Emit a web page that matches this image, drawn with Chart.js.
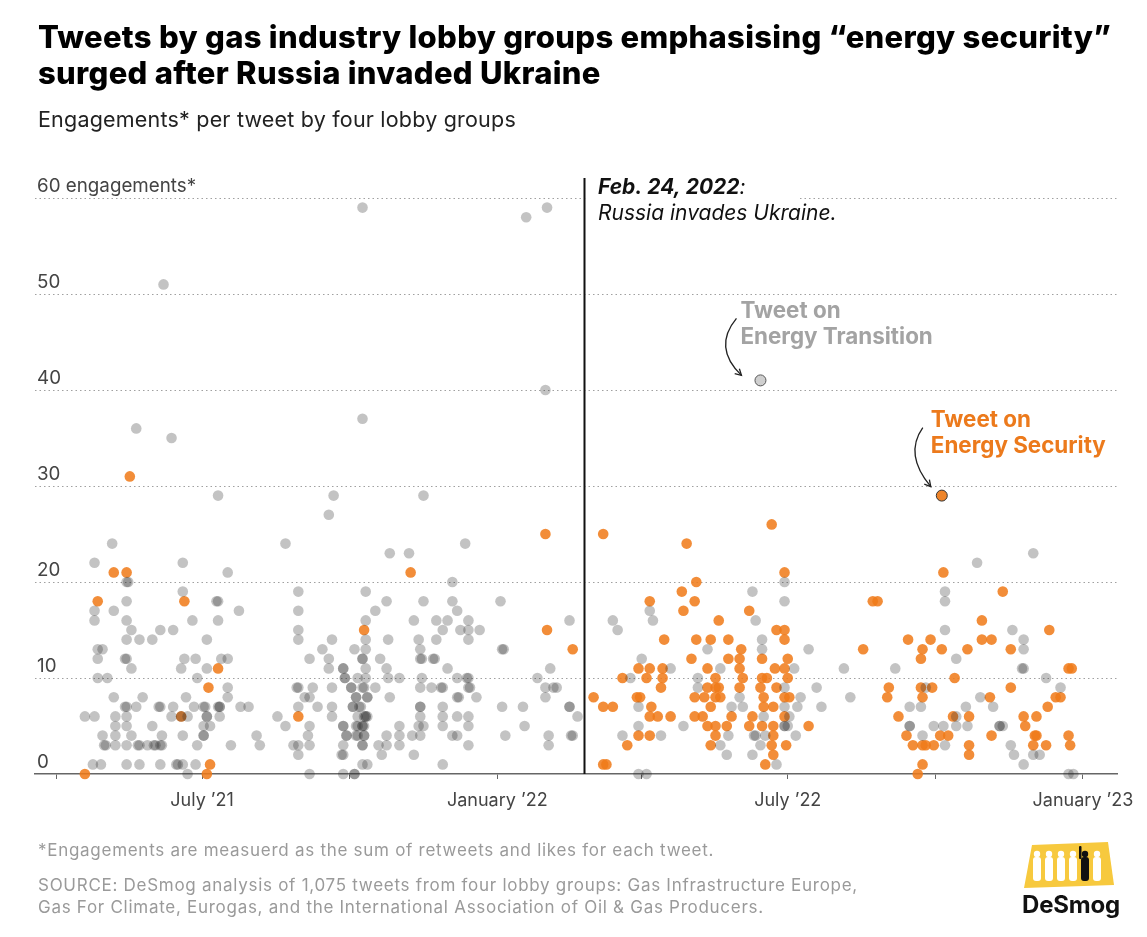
<!DOCTYPE html>
<html>
<head>
<meta charset="utf-8">
<script src="https://cdn.jsdelivr.net/npm/chart.js@4.4.1/dist/chart.umd.min.js"></script>
<style>
  html,body{margin:0;padding:0;background:#fff;}
  body{width:1147px;height:937px;position:relative;overflow:hidden;font-family:Inter,"Noto Sans",sans-serif;}
  #wrap{position:absolute;left:0;top:0;width:1147px;height:937px;}
  .txt{position:absolute;white-space:nowrap;margin:0;}
  #title{left:38px;top:19px;font-size:31px;line-height:36px;font-weight:800;color:#000;letter-spacing:0.3px;}
  #subtitle{left:38px;top:106px;font-size:21.5px;line-height:26px;color:#222;letter-spacing:0.2px;}
  #note{left:38px;top:839px;font-size:17px;line-height:22px;color:#9a9a9a;letter-spacing:0.72px;}
  #source{left:38px;top:874px;font-size:17px;line-height:22px;color:#9a9a9a;letter-spacing:0.72px;}
  #logo{position:absolute;left:1010px;top:830px;width:130px;height:100px;}
  #logoText{left:1022px;top:890px;font-size:24px;line-height:30px;font-weight:700;color:#111;letter-spacing:-0.2px;}
</style>
</head>
<body>
<div id="wrap"><canvas id="c" width="1147" height="937"></canvas></div>
<div class="txt" id="title">Tweets by gas industry lobby groups emphasising “energy security”<br>surged after Russia invaded Ukraine</div>
<div class="txt" id="subtitle">Engagements* per tweet by four lobby groups</div>
<div class="txt" id="note">*Engagements are measuerd as the sum of retweets and likes for each tweet.</div>
<div class="txt" id="source">SOURCE: DeSmog analysis of 1,075 tweets from four lobby groups: Gas Infrastructure Europe,<br>Gas For Climate, Eurogas, and the International Association of Oil &amp; Gas Producers.</div>
<svg id="logo" viewBox="0 0 130 100">
  <polygon points="22,15 98,12 104,55 14,58" fill="#f7c93e"/>
  <g fill="#fff">
    <circle cx="27" cy="24" r="3.2"/><rect x="23" y="27" width="8" height="24" rx="3"/>
    <circle cx="39" cy="24" r="3.2"/><rect x="35" y="27" width="8" height="24" rx="3"/>
    <circle cx="51" cy="24" r="3.2"/><rect x="47" y="27" width="8" height="24" rx="3"/>
    <circle cx="63" cy="24" r="3.2"/><rect x="59" y="27" width="8" height="24" rx="3"/>
    <circle cx="87" cy="24" r="3.2"/><rect x="83" y="27" width="8" height="24" rx="3"/>
  </g>
  <g fill="#111">
    <circle cx="75" cy="24" r="3.2"/><rect x="71" y="27" width="8" height="24" rx="3"/>
    <rect x="69" y="16" width="2.5" height="13" rx="1"/>
  </g>
</svg>
<div class="txt" id="logoText">DeSmog</div>
<script>
// x values: days since 1 April 2021 (tweet date); y values: engagements
const START_DATE = '2021-04-01';
const INVASION_DAY = 329; // Feb. 24, 2022
const xTickDays   = [0, 91, 183, 275, 365, 456, 548, 640];
const xTickLabels = ['', 'July ’21', '', 'January ’22', '', 'July ’22', '', 'January ’23'];
const yTickValues = [0, 10, 20, 30, 40, 50, 60];
const yTickLabels = ['0', '10', '20', '30', '40', '50', '60 engagements*'];

// Tweets on other topics (grey): [day, engagements]
const otherTweets = [
[35,24],[143,24],[24,22],[79,22],[107,21],[44,20],[45,20],[44,18],[101,18],[100,18],[79,19],[24,17],[36,17],[114,17],
[24,16],[44,16],[85,16],[101,16],[47,15],[65,15],[73,15],[44,14],[52,14],[60,14],[94,14],[26,13],[29,13],[26,12],
[44,12],[43,12],[80,12],[87,12],[103,12],[107,12],[47,11],[78,11],[94,11],[26,10],[32,10],[88,10],[107,9],[36,8],
[54,8],[81,8],[107,8],[44,7],[43,7],[50,7],[65,7],[64,7],[73,7],[86,7],[93,7],[92,7],[102,7],[102,7],[101,7],[115,7],
[120,7],[18,6],[24,6],[37,6],[44,6],[72,6],[78,6],[82,6],[94,6],[94,6],[102,6],[138,6],[37,5],[44,5],[60,5],[92,5],
[96,5],[143,5],[29,4],[37,4],[47,4],[66,4],[79,4],[92,4],[92,4],[125,4],[31,3],[30,3],[37,3],[44,3],[52,3],[51,3],
[57,3],[62,3],[61,3],[65,3],[66,3],[88,3],[109,3],[127,3],[23,1],[28,1],[44,1],[52,1],[65,1],[75,1],[76,1],[79,1],
[87,1],[82,0],[50,36],[72,35],[67,51],[101,29],
[170,27],[173,29],[229,29],[191,59],[191,37],[293,58],[306,59],[305,40],[208,23],[220,23],[255,24],[247,20],[151,19],
[193,19],[206,18],[229,18],[247,18],[277,18],[151,17],[199,17],[250,17],[193,16],[223,16],[237,16],[244,16],[257,16],
[320,16],[151,15],[241,15],[252,15],[257,15],[264,15],[151,14],[172,14],[193,14],[207,14],[226,14],[237,14],[257,14],
[166,13],[186,13],[193,13],[227,13],[279,13],[278,13],[158,12],[170,12],[191,12],[191,12],[202,12],[227,12],[228,12],
[236,12],[235,12],[170,11],[179,11],[179,11],[193,11],[206,11],[244,11],[308,11],[180,10],[180,10],[188,10],[193,10],
[207,10],[214,10],[228,10],[250,10],[257,10],[256,10],[300,10],[151,9],[150,9],[160,9],[172,9],[184,9],[184,9],[191,9],
[192,9],[199,9],[227,9],[234,9],[241,9],[240,9],[257,9],[258,9],[305,9],[310,9],[312,9],[155,8],[158,8],[187,8],[187,8],
[194,8],[194,8],[208,8],[250,8],[251,8],[262,8],[305,8],[151,7],[163,7],[172,7],[185,7],[185,7],[189,7],[190,7],[227,7],
[227,7],[241,7],[278,7],[291,7],[320,7],[320,7],[172,6],[188,6],[193,6],[193,6],[192,6],[194,6],[227,6],[241,6],[250,6],
[257,6],[325,6],[158,5],[179,5],[179,5],[188,5],[187,5],[191,5],[192,5],[191,5],[214,5],[226,5],[229,5],[241,5],[257,5],
[292,5],[157,4],[181,4],[181,4],[188,4],[187,4],[192,4],[192,4],[206,4],[214,4],[222,4],[227,4],[247,4],[250,4],[280,4],
[307,4],[322,4],[321,4],[148,3],[151,3],[158,3],[179,3],[191,3],[191,3],[201,3],[206,3],[214,3],[257,3],[307,3],[151,2],
[179,2],[178,2],[203,2],[223,2],[191,1],[194,1],[241,1],[158,0],[179,0],[186,0],[186,0],
[454,20],[434,19],[454,18],[370,17],[347,16],[372,16],[436,16],[350,15],[440,14],[406,13],[440,13],[469,13],[365,12],
[383,11],[414,11],[460,11],[491,11],[358,10],[400,10],[400,9],[454,9],[474,9],[426,8],[464,8],[495,8],[363,7],[421,7],
[428,7],[454,7],[462,7],[477,7],[441,6],[457,6],[363,5],[391,5],[454,5],[454,5],[456,5],[353,4],[377,4],[419,4],[436,4],
[435,4],[442,4],[461,4],[414,3],[439,3],[418,2],[434,2],[449,1],[363,0],[368,0],
[609,23],[574,22],[554,19],[554,18],[554,15],[596,15],[603,14],[603,13],[561,12],[523,11],[603,11],[602,11],[617,10],
[542,9],[626,9],[576,8],[532,7],[539,7],[567,7],[584,7],[561,6],[532,5],[532,5],[547,5],[553,5],[561,5],[568,5],[588,5],
[588,5],[590,5],[540,4],[554,3],[595,3],[597,2],[609,2],[613,2],[603,1],[631,0],[634,0]
];

// Tweets on energy security (orange): [day, engagements]
const securityTweets = [
[36,21],[44,21],[26,18],[80,18],[101,11],[95,9],[78,6],[96,1],[18,0],[94,0],[46,31],[305,25],[221,21],[192,15],[306,15],
[322,13],[151,6],[341,25],[393,24],[446,26],[454,21],[399,20],[390,19],[370,18],[398,18],[391,17],[432,17],[413,16],
[449,15],[454,15],[379,14],[399,14],[408,14],[419,14],[454,14],[427,13],[396,12],[419,12],[426,12],[440,12],[456,12],
[363,11],[370,11],[378,11],[406,11],[426,11],[448,11],[454,11],[353,10],[368,10],[378,10],[411,10],[428,10],[440,10],
[443,10],[456,10],[377,9],[406,9],[411,9],[413,9],[426,9],[439,9],[449,9],[335,8],[362,8],[364,8],[398,8],[404,8],
[411,8],[414,8],[441,8],[454,8],[457,8],[341,7],[347,7],[371,7],[408,7],[441,7],[447,7],[370,6],[375,6],[383,6],[398,6],
[403,6],[421,6],[434,6],[454,6],[406,5],[411,5],[418,5],[432,5],[440,5],[447,5],[469,5],[363,4],[370,4],[411,4],[447,4],
[356,3],[408,3],[446,3],[455,3],[447,2],[341,1],[343,1],[442,1],
[553,21],[590,19],[509,18],[512,18],[577,16],[619,15],[531,14],[545,14],[577,14],[583,14],[503,13],[540,13],[552,13],
[568,13],[595,13],[539,12],[631,11],[633,11],[560,10],[519,9],[539,9],[546,9],[595,9],[518,8],[540,8],[582,8],[623,8],
[626,8],[618,7],[525,6],[559,6],[569,6],[603,6],[611,6],[604,5],[530,4],[551,4],[556,4],[583,4],[611,4],[610,4],[631,4],
[534,3],[540,3],[542,3],[547,3],[569,3],[609,3],[617,3],[632,3],[569,2],[540,1],[537,0]
];

// Highlighted tweets
const highlightTransition = [[439, 41]];
const highlightSecurity   = [[552, 29]];

const toPts = arr => arr.map(([d, v]) => ({x: d, y: v}));
Chart.defaults.font.family = 'Inter, "Noto Sans", sans-serif';

const annotationPlugin = {
  id: 'annots',
  beforeDatasetsDraw(chart) {
    const {ctx, chartArea, scales: {x}} = chart;
    const lx = Math.round(x.getPixelForValue(INVASION_DAY)) + 0.5;
    ctx.save();
    ctx.fillStyle = '#fff';
    ctx.fillRect(lx + 1, chartArea.top - 6, 212, 12);
    ctx.strokeStyle = '#111';
    ctx.lineWidth = 2;
    ctx.beginPath();
    ctx.moveTo(lx, chartArea.top - 20);
    ctx.lineTo(lx, chartArea.bottom);
    ctx.stroke();
    ctx.restore();
  },
  afterDatasetsDraw(chart) {
    const {ctx, chartArea, scales: {x, y}} = chart;
    const lx = x.getPixelForValue(INVASION_DAY);
    ctx.save();
    ctx.textBaseline = 'middle';
    ctx.textAlign = 'left';
    ctx.fillStyle = '#111';
    ctx.font = 'italic 700 21px Inter, "Noto Sans", sans-serif';
    const t1 = 'Feb. 24, 2022';
    ctx.fillText(t1, lx + 14, chartArea.top - 10);
    const w1 = ctx.measureText(t1).width;
    ctx.font = 'italic 400 21px Inter, "Noto Sans", sans-serif';
    ctx.fillText(':', lx + 14 + w1, chartArea.top - 10);
    ctx.fillText('Russia invades Ukraine.', lx + 14, chartArea.top + 16);

    const drawArrow = (sx, sy, cx, cy, ex, ey) => {
      ctx.strokeStyle = '#222';
      ctx.lineWidth = 1.3;
      ctx.beginPath();
      ctx.moveTo(sx, sy);
      ctx.quadraticCurveTo(cx, cy, ex, ey);
      ctx.stroke();
      const ang = Math.atan2(ey - cy, ex - cx);
      const L = 7;
      ctx.beginPath();
      ctx.moveTo(ex - L * Math.cos(ang - 0.5), ey - L * Math.sin(ang - 0.5));
      ctx.lineTo(ex, ey);
      ctx.lineTo(ex - L * Math.cos(ang + 0.5), ey - L * Math.sin(ang + 0.5));
      ctx.stroke();
    };

    const g = highlightTransition[0];
    const gx = x.getPixelForValue(g[0]), gy = y.getPixelForValue(g[1]);
    ctx.font = '700 22.4px Inter, "Noto Sans", sans-serif';
    ctx.fillStyle = '#a3a3a3';
    ctx.fillText('Tweet on', gx - 20, gy - 69);
    ctx.fillText('Energy Transition', gx - 20, gy - 43);
    drawArrow(gx - 24, gy - 62, gx - 48, gy - 33, gx - 19, gy - 5);

    const o = highlightSecurity[0];
    const ox = x.getPixelForValue(o[0]), oy = y.getPixelForValue(o[1]);
    ctx.fillStyle = '#ec7a1c';
    ctx.fillText('Tweet on', ox - 11, oy - 75);
    ctx.fillText('Energy Security', ox - 11, oy - 49);
    drawArrow(ox - 19, oy - 68, ox - 38, oy - 41, ox - 11, oy - 9);
    ctx.restore();
  }
};

new Chart(document.getElementById('c'), {
  type: 'scatter',
  data: {
    datasets: [
      { data: toPts(otherTweets), backgroundColor: 'rgba(40,40,40,0.28)', borderWidth: 0, pointRadius: 5.3, clip: false },
      { data: toPts(securityTweets), backgroundColor: 'rgba(240,122,24,0.86)', borderWidth: 0, pointRadius: 5.3, clip: false },
      { data: toPts(highlightTransition), backgroundColor: '#cfcfcf', borderColor: '#555', borderWidth: 1, pointRadius: 5.5, clip: false },
      { data: toPts(highlightSecurity), backgroundColor: '#ee8429', borderColor: '#333', borderWidth: 1, pointRadius: 5.5, clip: false }
    ]
  },
  options: {
    responsive: false,
    animation: false,
    events: [],
    layout: { padding: { left: 35, right: 30, top: 198, bottom: 123 } },
    plugins: { legend: { display: false }, tooltip: { enabled: false } },
    scales: {
      x: {
        type: 'linear',
        min: -13.09, max: 661.19,
        afterBuildTicks: s => { s.ticks = xTickDays.map(v => ({ value: v })); },
        afterFit: s => { s.height = 40; },
        grid: { drawOnChartArea: false, drawTicks: true, tickLength: 5, color: '#666', lineWidth: 1 },
        border: { display: true, color: '#666', width: 1.5 },
        ticks: {
          autoSkip: false, maxRotation: 0, padding: 11,
          color: '#444', font: { size: 18 },
          callback: (v) => { const i = xTickDays.indexOf(v); return i >= 0 ? xTickLabels[i] : ''; }
        }
      },
      y: {
        min: 0, max: 60,
        afterBuildTicks: s => { s.ticks = yTickValues.map(v => ({ value: v })); },
        afterFit: s => { s.width = 0; },
        grid: { drawTicks: false, color: c => (c.tick && c.tick.value === 0) ? 'rgba(0,0,0,0)' : '#a0a0a0', lineWidth: 1 },
        border: { display: false, dash: [1.5, 3] },
        ticks: {
          mirror: true, padding: 2, labelOffset: -12,
          color: '#444', font: { size: 18.8 },
          callback: (v) => { const i = yTickValues.indexOf(v); return i >= 0 ? yTickLabels[i] : ''; }
        }
      }
    }
  },
  plugins: [annotationPlugin]
});
</script>
</body>
</html>
